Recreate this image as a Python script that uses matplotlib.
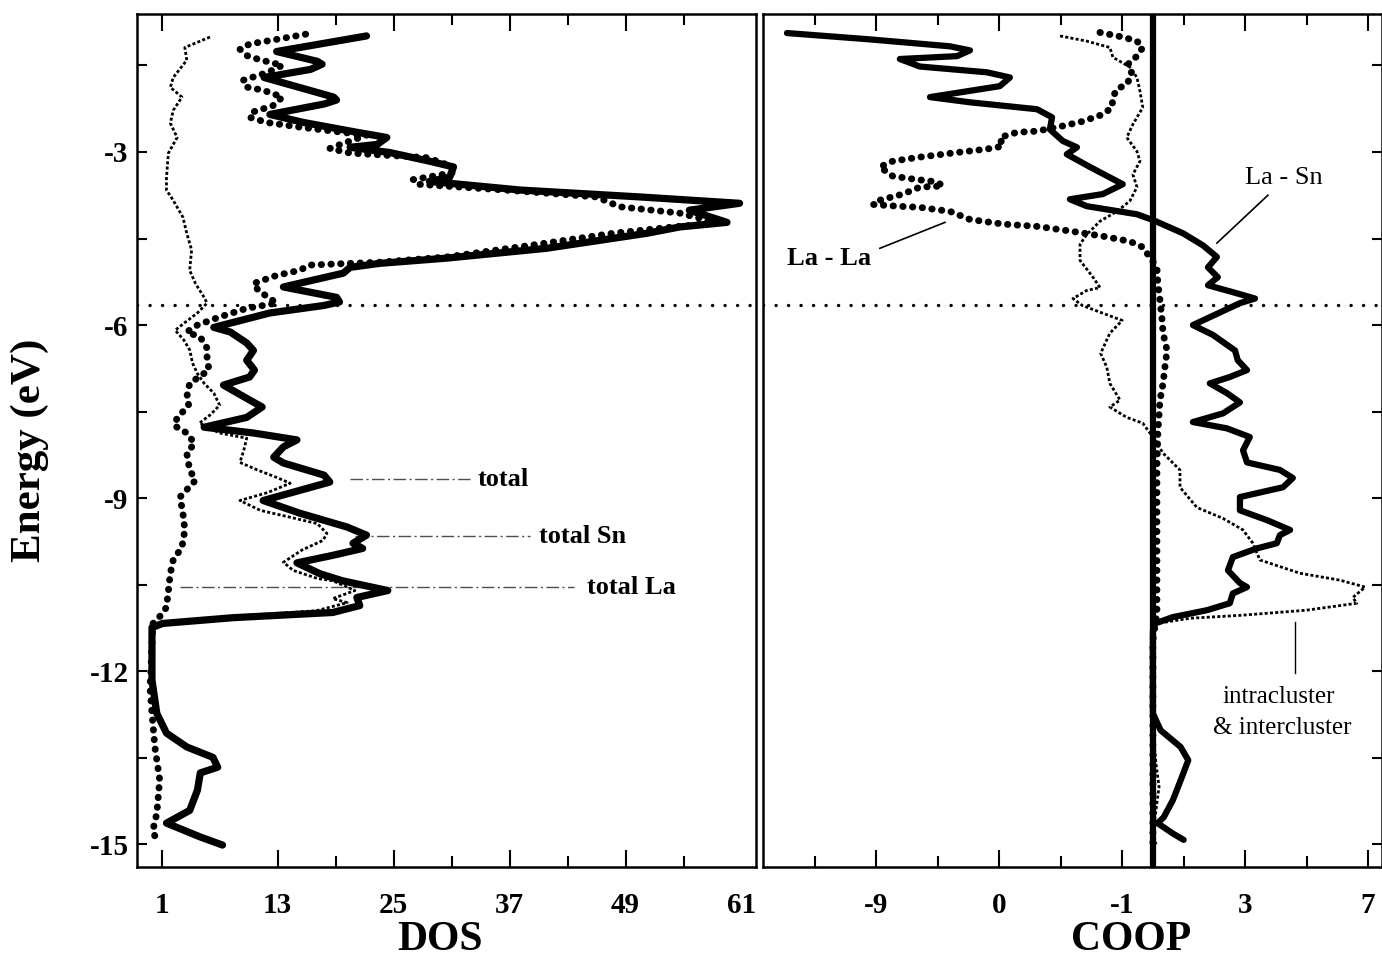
import matplotlib
matplotlib.use("Agg")
import matplotlib.pyplot as plt

plt.rcParams['font.family'] = ['Liberation Serif', 'DejaVu Serif']
plt.rcParams['font.weight'] = 'bold'

# ---------------- density of states (energy in eV, DOS in states/eV) ----------------
dos_total_E = [-0.99, -1.26, -1.43, -1.48, -1.57, -1.71, -2.05, -2.10, -2.17, -2.35,
               -2.49, -2.65, -2.75, -2.87, -2.92, -3.01, -3.16, -3.26, -3.44, -3.51,
               -3.66, -3.78, -3.89, -4.01, -4.22, -4.30, -4.41, -4.67, -4.84, -4.93,
               -5.00, -5.10, -5.34, -5.52, -5.60, -5.66, -5.79, -6.04, -6.12, -6.31,
               -6.44, -6.61, -6.78, -6.90, -7.04, -7.27, -7.42, -7.60, -7.77, -7.87,
               -7.99, -8.11, -8.29, -8.39, -8.60, -8.72, -9.04, -9.26, -9.50, -9.64,
               -9.78, -9.87, -9.99, -10.12, -10.31, -10.43, -10.60, -10.72, -10.86, -10.98,
               -11.07, -11.17, -11.24, -12.15, -12.73, -13.07, -13.31, -13.49, -13.66, -13.76,
               -14.06, -14.41, -14.63, -14.87, -15.01]
dos_total = [22.2, 12.9, 17.1, 17.6, 16.4, 11.6, 18.8, 19.1, 17.8, 12.2,
             15.7, 20.9, 24.3, 23.3, 20.5, 24.6, 28.7, 31.2, 30.8, 28.7,
             38.1, 50.5, 60.8, 55.6, 59.5, 54.6, 51.2, 40.8, 30.5, 23.6,
             20.5, 19.8, 13.6, 19.1, 19.4, 17.8, 12.2, 6.4, 8.1, 9.8,
             10.5, 9.8, 10.6, 10.1, 7.4, 9.8, 11.4, 9.8, 5.4, 10.5,
             15.0, 13.6, 12.6, 13.6, 17.8, 18.4, 11.5, 15.3, 20.2, 22.2,
             20.8, 21.8, 18.7, 15.0, 17.4, 19.7, 24.4, 21.2, 21.5, 18.7,
             8.4, 1.1, 0.0, 0.0, 0.5, 1.5, 3.6, 6.3, 6.8, 5.0,
             4.7, 3.9, 1.5, 5.0, 7.3]

dos_la_E = [-0.96, -1.05, -1.13, -1.22, -1.33, -1.40, -1.50, -1.62, -1.76, -1.88,
            -1.93, -2.05, -2.20, -2.31, -2.40, -2.49, -2.57, -2.71, -2.87, -2.94,
            -3.02, -3.10, -3.22, -3.35, -3.48, -3.56, -3.66, -3.78, -3.95, -4.06,
            -4.15, -4.24, -4.30, -4.41, -4.62, -4.82, -4.91, -4.96, -5.05, -5.14,
            -5.28, -5.40, -5.62, -5.71, -5.86, -6.00, -6.12, -6.21, -6.40, -6.57,
            -6.78, -7.01, -7.25, -7.39, -7.61, -7.74, -7.87, -8.05, -8.22, -8.51,
            -8.69, -8.98, -9.26, -9.55, -9.85, -10.07, -10.30, -10.60, -10.89, -11.12,
            -11.17, -12.28, -12.73, -13.31, -13.88, -14.46, -14.75, -14.96]
dos_la = [15.9, 12.9, 10.1, 9.1, 9.8, 11.1, 13.5, 12.0, 9.4, 9.9,
          11.5, 13.5, 12.5, 10.4, 10.1, 11.9, 15.3, 22.2, 19.5, 18.4,
          20.5, 28.5, 30.5, 31.5, 27.0, 27.5, 36.5, 46.0, 48.4, 54.6,
          56.7, 58.0, 53.9, 47.7, 39.1, 30.5, 23.6, 16.3, 15.3, 12.9,
          10.5, 11.0, 12.9, 9.8, 7.0, 4.7, 3.6, 5.0, 5.7, 5.7,
          5.9, 3.9, 3.6, 3.8, 2.6, 2.3, 3.6, 4.4, 3.6, 3.9,
          4.5, 2.9, 3.2, 3.4, 3.1, 2.2, 1.9, 1.7, 1.5, 0.5,
          0.1, -0.2, 0.0, 0.3, 0.8, 0.5, 0.1, 0.5]

dos_sn_E = [-1.01, -1.19, -1.41, -1.71, -1.88, -2.05, -2.28, -2.50, -2.75, -3.02,
            -3.44, -3.66, -3.84, -4.13, -4.41, -4.70, -5.05, -5.28, -5.52, -5.62,
            -5.79, -5.97, -6.09, -6.26, -6.43, -6.66, -6.84, -7.01, -7.18, -7.39,
            -7.56, -7.70, -7.87, -7.96, -8.17, -8.38, -8.51, -8.64, -8.74, -8.90,
            -9.04, -9.21, -9.33, -9.44, -9.61, -9.73, -9.90, -10.11, -10.25, -10.39,
            -10.43, -10.60, -10.74, -10.81, -10.95, -11.05, -11.15, -11.30]
dos_sn = [6.0, 3.4, 3.6, 2.2, 1.9, 3.1, 2.2, 1.9, 2.6, 1.7,
          1.5, 1.5, 2.2, 3.2, 3.6, 4.1, 3.9, 4.5, 5.4, 5.7,
          4.7, 3.3, 2.4, 3.3, 3.9, 4.2, 4.7, 5.4, 6.4, 7.0,
          6.0, 4.9, 7.0, 9.8, 9.5, 9.1, 10.9, 12.9, 14.3, 12.0,
          9.1, 11.2, 14.3, 17.1, 18.1, 17.7, 15.5, 13.6, 14.6, 17.1,
          18.7, 21.0, 18.7, 20.2, 17.0, 8.0, 1.0, 0.2]

# ---------------- crystal orbital overlap populations ----------------
coop_lasn_E = [-0.94, -1.05, -1.17, -1.24, -1.34, -1.39, -1.52, -1.62, -1.71, -1.86,
               -2.05, -2.14, -2.26, -2.40, -2.61, -2.81, -2.92, -3.04, -3.26, -3.56,
               -3.73, -3.82, -3.94, -4.08, -4.18, -4.41, -4.62, -4.82, -5.00, -5.17,
               -5.31, -5.43, -5.54, -5.62, -6.00, -6.17, -6.44, -6.61, -6.78, -6.90,
               -7.01, -7.18, -7.34, -7.53, -7.68, -7.79, -7.94, -8.17, -8.38, -8.51,
               -8.65, -8.81, -8.98, -9.21, -9.38, -9.55, -9.64, -9.78, -9.87, -10.02,
               -10.25, -10.47, -10.54, -10.65, -10.82, -10.94, -11.06, -11.17, -11.30, -12.73,
               -13.02, -13.31, -13.54, -13.89, -14.23, -14.53, -14.63, -14.81, -14.92]
coop_lasn = [-11.9, -9.2, -6.6, -5.95, -6.37, -8.23, -7.58, -5.4, -4.65, -4.98,
             -7.25, -5.95, -3.77, -3.28, -3.35, -2.93, -2.47, -2.80, -2.05, -0.98,
             -1.63, -2.70, -2.15, -0.52, 0.0, 0.98, 1.63, 2.08, 1.79, 2.11,
             1.79, 2.60, 3.32, 2.83, 1.30, 1.95, 2.67, 2.76, 3.06, 2.50,
             1.85, 2.41, 2.83, 2.28, 1.30, 2.41, 3.15, 2.93, 3.06, 4.13,
             4.55, 4.23, 2.83, 2.83, 3.71, 4.46, 4.13, 4.03, 3.38, 2.60,
             2.44, 2.83, 3.06, 2.60, 2.50, 1.76, 0.65, 0.07, 0.0, 0.0,
             0.25, 0.9, 1.15, 0.9, 0.65, 0.35, 0.15, 0.65, 1.0]

coop_lala_E = [-0.93, -1.01, -1.08, -1.19, -1.34, -1.48, -1.65, -1.83, -1.91, -2.05,
               -2.23, -2.35, -2.47, -2.55, -2.64, -2.66, -2.75, -2.90, -2.95, -3.01,
               -3.09, -3.16, -3.26, -3.42, -3.47, -3.52, -3.59, -3.61, -3.73, -3.85,
               -3.91, -3.94, -3.96, -4.03, -4.17, -4.25, -4.29, -4.37, -4.46, -4.55,
               -4.65, -5.00, -5.28, -5.57, -5.86, -6.14, -6.44, -6.73, -7.01, -7.30,
               -7.87, -8.46, -9.73, -10.99, -11.46, -15.00]
coop_lala = [-1.72, -0.98, -0.52, -0.33, -0.52, -0.81, -0.68, -0.85, -1.17, -1.30,
             -1.33, -1.63, -2.28, -2.93, -3.77, -4.42, -4.98, -4.88, -5.40, -6.37,
             -7.58, -8.46, -8.88, -8.46, -7.8, -7.02, -6.83, -7.58, -8.13, -8.98,
             -9.1, -8.33, -7.58, -6.6, -5.95, -4.88, -3.77, -2.70, -1.63, -0.75,
             -0.33, 0.13, 0.16, 0.23, 0.29, 0.33, 0.46, 0.39, 0.33, 0.23,
             0.16, 0.13, 0.13, 0.13, 0.0, 0.0]

coop_cluster_E = [-0.99, -1.08, -1.19, -1.36, -1.53, -1.71, -1.95, -2.23, -2.52, -2.75,
                  -2.99, -3.16, -3.39, -3.61, -3.85, -4.03, -4.20, -4.43, -4.60, -4.88,
                  -5.17, -5.35, -5.40, -5.54, -5.66, -5.78, -5.92, -6.14, -6.49, -6.73,
                  -7.01, -7.30, -7.42, -7.60, -7.70, -7.94, -8.22, -8.51, -8.81, -9.16,
                  -9.35, -9.55, -9.78, -10.07, -10.30, -10.42, -10.54, -10.72, -10.82, -10.94,
                  -11.03, -11.08, -11.17, -11.29, -13.00, -13.60, -14.00, -14.40, -14.80, -15.00]
coop_cluster = [-3.02, -2.15, -1.40, -1.30, -0.75, -0.52, -0.42, -0.33, -0.65, -0.85,
                -0.52, -0.42, -0.65, -0.52, -0.75, -1.17, -1.72, -2.15, -2.37, -2.37,
                -1.95, -1.72, -2.15, -2.6, -2.3, -1.7, -1.0, -1.4, -1.7, -1.5,
                -1.4, -1.07, -1.4, -0.85, -0.33, 0.0, 0.33, 0.88, 0.88, 1.43,
                2.28, 2.93, 3.25, 3.48, 4.78, 6.08, 6.9, 6.5, 6.63, 5.0,
                2.83, 1.2, 0.13, 0.0, 0.0, 0.1, 0.2, 0.1, 0.0, 0.1]

fermi_E = -5.65

energy_ticks = [-3, -6, -9, -12, -15]
energy_minor = [-1.5, -4.5, -7.5, -10.5, -13.5]
dos_ticks = [1, 13, 25, 37, 49, 61]
dos_minor = [19, 31, 43, 55]
coop_ticks = [-9, -5, -1, 3, 7]
coop_tick_labels = ['-9', '0', '-1', '3', '7']
coop_minor = [-11, -7, -3, 1, 5]

# ---------------- figure layout ----------------
W, H = 1382, 961
fig = plt.figure(figsize=(W / 100, H / 100), dpi=100)


def frame(x0, y0, x1, y1):
    return [x0 / W, 1 - y1 / H, (x1 - x0) / W, (y1 - y0) / H]


ax1 = fig.add_axes(frame(137, 14, 756, 867))
ax2 = fig.add_axes(frame(763, 14, 1382, 867))

big_dots = dict(color='black', lw=5.0, linestyle=(0, (0.05, 1.35)),
                dash_capstyle='round', solid_capstyle='round')
fine_dots = dict(color='black', lw=2.0, linestyle=(0, (1.1, 0.8)))
fermi_style = dict(color='black', lw=2.4, linestyle=(0, (0.05, 3.7)),
                   dash_capstyle='round')
leader = dict(color='0.3', lw=1.0, linestyle=(0, (9, 2.5, 1.5, 2.5)))

# DOS panel
ax1.plot(dos_total, dos_total_E, color='black', lw=5.2,
         solid_joinstyle='round', solid_capstyle='round', zorder=3)
ax1.plot(dos_la, dos_la_E, zorder=4, **big_dots)
ax1.plot(dos_sn, dos_sn_E, zorder=4, **fine_dots)
ax1.axhline(fermi_E, zorder=2, **fermi_style)

ax1.plot([20.5, 32.9], [-8.67, -8.67], zorder=1, **leader)
ax1.plot([21.0, 39.1], [-9.66, -9.66], zorder=1, **leader)
ax1.plot([2.9, 43.7], [-10.54, -10.54], zorder=1, **leader)
ax1.text(33.7, -8.67, 'total', fontsize=19, va='center', ha='left')
ax1.text(40.0, -9.66, 'total Sn', fontsize=19, va='center', ha='left')
ax1.text(45.0, -10.54, 'total La', fontsize=19, va='center', ha='left')

ax1.set_xlim(-1.55, 62.5)
ax1.set_ylim(-15.39, -0.61)

# COOP panel
ax2.axvline(0, color='black', lw=4.5, zorder=2)
ax2.plot(coop_lasn, coop_lasn_E, color='black', lw=4.5,
         solid_joinstyle='round', solid_capstyle='round', zorder=3)
ax2.plot(coop_lala, coop_lala_E, zorder=4, **big_dots)
ax2.plot(coop_cluster, coop_cluster_E, zorder=4, **fine_dots)
ax2.axhline(fermi_E, zorder=1, **fermi_style)

ax2.plot([-8.88, -6.76], [-4.67, -4.22], color='black', lw=1.2)
ax2.text(-11.9, -4.84, 'La - La', fontsize=19, va='center', ha='left')
ax2.plot([2.08, 3.74], [-4.58, -3.75], color='black', lw=1.2)
ax2.text(2.99, -3.46, 'La - Sn', fontsize=19, va='center', ha='left',
         fontweight='normal')
ax2.plot([4.62, 4.62], [-11.15, -12.02], color='black', lw=1.0)
ax2.text(4.1, -12.45, 'intracluster', fontsize=18, va='center', ha='center',
         fontweight='normal')
ax2.text(4.2, -12.99, '& intercluster', fontsize=18, va='center', ha='center',
         fontweight='normal')

ax2.set_xlim(-12.68, 7.45)
ax2.set_ylim(-15.39, -0.61)

# ---------------- axes decoration ----------------
for ax in (ax1, ax2):
    for s in ax.spines.values():
        s.set_linewidth(1.8)
    ax.tick_params(axis='x', which='both', direction='in', top=True, bottom=True,
                   width=1.5, labelsize=21)
    ax.tick_params(axis='x', which='major', length=12, pad=18)
    ax.tick_params(axis='x', which='minor', length=8)

ax1.set_xticks(dos_ticks)
ax1.set_xticklabels([str(t) for t in dos_ticks])
ax1.set_xticks(dos_minor, minor=True)
for loc, tk in zip(dos_ticks, ax1.xaxis.get_major_ticks()):
    if loc == 61:
        tk.tick1line.set_visible(False)
        tk.tick2line.set_visible(False)

ax1.set_yticks(energy_ticks)
ax1.set_yticklabels([str(t) for t in energy_ticks])
ax1.set_yticks(energy_minor, minor=True)
ax1.tick_params(axis='y', which='both', direction='in', left=True, right=False,
                length=7, width=1.5, pad=6, labelsize=21)

ax2.set_xticks(coop_ticks)
ax2.set_xticklabels(coop_tick_labels)
ax2.set_xticks(coop_minor, minor=True)
ax2.set_yticks(energy_ticks)
ax2.set_yticks(energy_minor, minor=True)
ax2.tick_params(axis='y', which='both', direction='in', left=False, right=True,
                labelleft=False, labelright=False, length=7, width=1.5)

fig.text(30 / W, 1 - 450 / H, 'Energy (eV)', rotation=90, fontsize=31,
         ha='center', va='center')
fig.text(440 / W, 1 - 940 / H, 'DOS', fontsize=30, ha='center', va='center')
fig.text(1131 / W, 1 - 940 / H, 'COOP', fontsize=30, ha='center', va='center')

fig.savefig('out.png', dpi=100)
